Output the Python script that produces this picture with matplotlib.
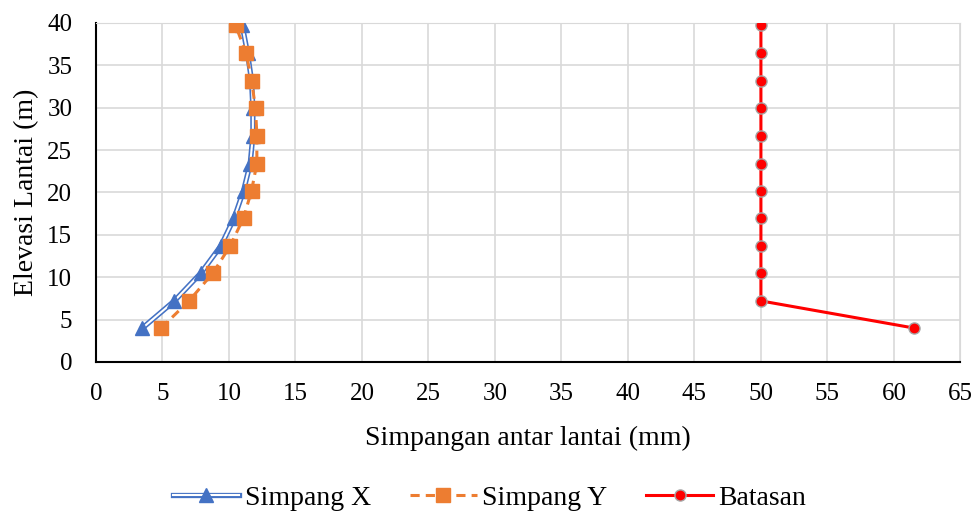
import matplotlib.pyplot as plt
import matplotlib.patheffects as pe

plt.rcParams['font.family'] = ['Liberation Serif', 'DejaVu Serif']

elevasi = [4.0, 7.2, 10.5, 13.7, 17.0, 20.2, 23.4, 26.7, 29.9, 33.2, 36.4, 39.7]
simpang_x = [3.5, 5.9, 7.9, 9.4, 10.4, 11.1, 11.6, 11.8, 11.8, 11.7, 11.4, 11.0]
simpang_y = [4.9, 7.0, 8.8, 10.1, 11.1, 11.7, 12.1, 12.1, 12.0, 11.7, 11.3, 10.5]
batasan = [61.5, 50, 50, 50, 50, 50, 50, 50, 50, 50, 50, 50]

blue = '#4472C4'
orange = '#ED7D31'

fig = plt.figure(figsize=(9.79, 5.2), dpi=100)
ax = fig.add_axes([0.098, 0.304, 0.883, 0.652])

# double line for Simpang X
lx, = ax.plot(simpang_x, elevasi, color=blue, lw=1.2,
              path_effects=[pe.Stroke(linewidth=3.8, foreground=blue),
                            pe.Stroke(linewidth=1.5, foreground='white')],
              zorder=3)
mx, = ax.plot(simpang_x, elevasi, ls='none', marker='^', color=blue,
              markersize=10, zorder=4)
ly, = ax.plot(simpang_y, elevasi, color=orange, lw=2.2, ls=(0, (3, 2)),
              marker='s', markersize=9.5, zorder=5)
lb, = ax.plot(batasan, elevasi, color='#FF0000', lw=2.2, marker='o',
              markersize=8, markeredgecolor='#A6A6A6', markeredgewidth=1,
              zorder=5)

ax.set_xlim(0, 65)
ax.set_ylim(0, 40)
ax.set_xticks(range(0, 66, 5))
ax.set_yticks(range(0, 41, 5))
ax.grid(True, color='#D9D9D9', lw=1.2)
ax.set_axisbelow(True)
for s in ['top', 'right']:
    ax.spines[s].set_color('#D9D9D9')
for s in ['left', 'bottom']:
    ax.spines[s].set_color('black')
    ax.spines[s].set_linewidth(1.5)
ax.tick_params(length=0, labelsize=18)
ax.tick_params(axis='y', pad=17)
ax.tick_params(axis='x', pad=15)
ax.set_xlabel('Simpangan antar lantai (mm)', fontsize=20, labelpad=15)
ax.set_ylabel('Elevasi Lantai (m)', fontsize=20, labelpad=6)

fig.legend([(lx, mx), ly, lb], ['Simpang X', 'Simpang Y', 'Batasan'],
           loc='center', bbox_to_anchor=(0.5, 0.042), ncol=3, frameon=False,
           fontsize=20, handlelength=2.4, columnspacing=1.4, handletextpad=0.2)

fig.savefig('out.png', dpi=100)
